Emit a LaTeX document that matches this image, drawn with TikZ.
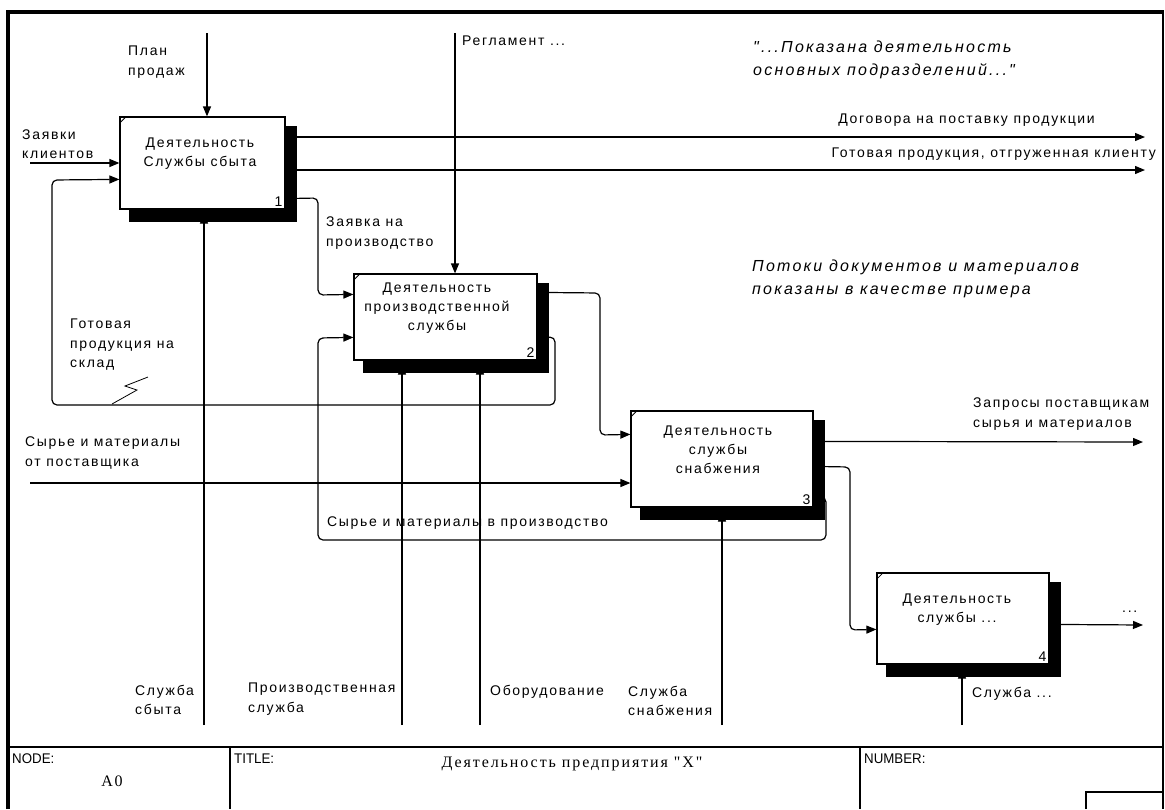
\documentclass[tikz,border=0pt]{standalone}
\usepackage{fontspec}
\setmainfont{Liberation Sans}[LetterSpace=12]
\newfontfamily\itfont{Liberation Sans}[LetterSpace=14]
\newfontfamily\serfont{Liberation Serif}[LetterSpace=12]
\newfontfamily\narfont{Liberation Sans}[FakeStretch=0.95]
\usetikzlibrary{arrows.meta,calc,backgrounds}

\begin{document}
\begin{tikzpicture}[x=1pt,y=-1pt,
  box/.style={draw,fill=white,line width=1.2pt,inner sep=0pt},
  lbl/.style={inner sep=0pt,font=\fontsize{14}{19.5}\selectfont,align=left},
  ctr/.style={inner sep=0pt,font=\fontsize{14}{19}\selectfont,align=center},
  ital/.style={inner sep=0pt,font=\itfont\itshape\fontsize{16}{22.5}\selectfont,align=left},
  numlbl/.style={inner sep=0pt,font=\fontsize{14}{15}\selectfont,anchor=south east},
  hdr/.style={inner sep=0pt,font=\narfont\fontsize{14}{15}\selectfont,anchor=west},
  flow/.style={line width=1.2pt,rounded corners=5pt,-{Triangle[length=10pt,width=8pt]}},
  shadowfill/.style={fill=black}
]
\useasboundingbox (0,0) rectangle (1165,809);

% frame
\draw[line width=4pt] (8,809) -- (8,12) -- (1163,12);
\draw[line width=2pt] (1163,10) -- (1163,809);
\draw[line width=2pt] (8,747) -- (1163,747);
\draw[line width=1.5pt] (230,747) -- (230,809);
\draw[line width=1.5pt] (860,747) -- (860,809);
\draw[line width=1.5pt] (1086,809) -- (1086,792) -- (1163,792);

% boxes
\node[box,minimum width=165pt,minimum height=92pt] (b1) at (202.5,163) {};
\node[box,minimum width=183pt,minimum height=86pt] (b2) at (445.5,317) {};
\node[box,minimum width=182pt,minimum height=96pt] (b3) at (722,459) {};
\node[box,minimum width=172pt,minimum height=91pt] (b4) at (963,618.5) {};

\begin{scope}[on background layer]
\foreach \b in {b1,b2,b3,b4}{
  \fill[shadowfill] ([shift={(10,10)}]\b.north west) rectangle ([shift={(11,12)}]\b.south east);
}
\end{scope}

\foreach \b in {b1,b2,b3,b4}{
  \draw[line width=0.8pt] ([shift={(1,6)}]\b.north west) -- ([shift={(6,1)}]\b.north west);
}

% box texts
\node[ctr] (t1) at (200,154) {Деятельность\\Службы сбыта};
\node[ctr] (t2) at (437,308) {Деятельность\\производственной\\службы};
\node[ctr] (t3) at (718,450) {Деятельность\\службы\\снабжения};
\node[ctr] (t4) at (957,610) {Деятельность\\службы ...};
\node[numlbl] (n1) at ([shift={(-3,-3)}]b1.south east) {1};
\node[numlbl] (n2) at ([shift={(-3,-3)}]b2.south east) {2};
\node[numlbl] (n3) at ([shift={(-3,-3)}]b3.south east) {3};
\node[numlbl] (n4) at ([shift={(-3,-3)}]b4.south east) {4};

% free ends
\coordinate (planS) at (207,33);
\coordinate (zS) at (30,163);
\coordinate (dogE) at (1145,137);
\coordinate (gotE) at (1145,170);
\coordinate (regS) at (455,33);
\coordinate (sS) at (30,483);
\coordinate (zapE) at (1143,442);
\coordinate (outE) at (1143,625);
\coordinate (m1) at (204,725);
\coordinate (m2a) at (402,725);
\coordinate (m2b) at (480,725);
\coordinate (m3) at (722,725);
\coordinate (m4) at (962,725);

% controls
\draw[flow] (planS) -- (planS |- b1.north);
\draw[flow] (regS) -- (regS |- b2.north);

% inputs
\draw[flow] (zS) -- (zS -| b1.west);
\draw[flow] (sS) -- (sS -| b3.west);

% outputs of box 1
\draw[flow] (dogE -| b1.east) -- (dogE);
\draw[flow] (gotE -| b1.east) -- (gotE);
\draw[flow] ([yshift=11pt]b1.south east) -- (318,198) -- (318,295) -- ([yshift=-21pt]b2.north west);

% feedback box 2 -> box 1
\draw[flow] ([yshift=23pt]b2.south east) -- (555,337) -- (555,405) -- (52,405) -- (52,180) -- ([yshift=-63pt]b1.north west);
\draw[line width=0.8pt] (112,404) -- (137,390) -- (125,386) -- (148,377);

% box 2 -> box 3
\draw[flow] ([yshift=-19pt]b2.north east) -- (600,293) -- (600,435) -- ([yshift=-24pt]b3.north west);

% box 3 -> box 2 (materials to production)
\draw[flow] ([yshift=10pt]b3.south east) -- (826,497) -- (826,540) -- (318,540) -- (318,338) -- ([yshift=-64pt]b2.north west);

% box 3 outputs
\draw[flow] ([yshift=-31pt]b3.north east) -- (zapE);
\draw[flow] ([yshift=-56pt]b3.north east) -- (850,467) -- (850,630) -- ([yshift=-57pt]b4.north west);

% box 4 output
\draw[flow] ([yshift=-52pt]b4.north east) -- (outE);

% mechanisms
\draw[flow] (m1) -- ([yshift=-4pt]m1 |- b1.south);
\draw[flow] (m2a) -- ([yshift=-4pt]m2a |- b2.south);
\draw[flow] (m2b) -- ([yshift=-4pt]m2b |- b2.south);
\draw[flow] (m3) -- ([yshift=-4pt]m3 |- b3.south);
\draw[flow] (m4) -- ([yshift=-4pt]m4 |- b4.south);

% labels
\node[lbl,anchor=west] (lplan) at (128,62) {План\\продаж};
\node[lbl,anchor=west] (lzayav) at (22,144) {Заявки\\клиентов};
\node[lbl,anchor=west] (lzpr) at (326,233) {Заявка на\\производство};
\node[lbl,anchor=west] (lreg) at (462,41) {Регламент ...};
\node[ital,anchor=west] (lq) at (753,60) {"...Показана деятельность\\основных подразделений..."};
\node[lbl,anchor=east] (ldog) at (1095,120) {Договора на поставку продукции};
\node[lbl,anchor=east] (lgot) at (1156,154) {Готовая продукция, отгруженная клиенту};
\node[ital,anchor=west] (lpot) at (752,279) {Потоки документов и материалов\\показаны в качестве примера};
\node[lbl,anchor=west] (lsklad) at (70,345) {Готовая\\продукция на\\склад};
\node[lbl,anchor=west] (lzapr) at (973,414) {Запросы поставщикам\\сырья и материалов};
\node[lbl,anchor=west] (lsyr) at (25,453) {Сырье и материалы\\от поставщика};
\node[lbl,anchor=west] (lsyrpr) at (327,523) {Сырье и материалы в производство};
\node[lbl,anchor=west] (ldots) at (1122,612) {...};
\node[lbl,anchor=west] (lss) at (135,700) {Служба\\сбыта};
\node[lbl,anchor=west] (lps) at (248,699) {Производственная\\служба};
\node[lbl,anchor=west] (lob) at (490,692) {Оборудование};
\node[lbl,anchor=west] (lsn) at (628,701) {Служба\\снабжения};
\node[lbl,anchor=west] (lsd) at (972,694) {Служба ...};

% title block
\node[hdr] (hnode) at (12,759) {NODE:};
\node[inner sep=0pt,font=\serfont\fontsize{16}{18}\selectfont] (hA0) at (112,781) {A0};
\node[hdr] (htitle) at (234,759) {TITLE:};
\node[inner sep=0pt,font=\serfont\fontsize{16}{18}\selectfont] (httl) at (572,764) {Деятельность предприятия "X"};
\node[hdr] (hnum) at (864,759) {NUMBER:};
\end{tikzpicture}
\end{document}
